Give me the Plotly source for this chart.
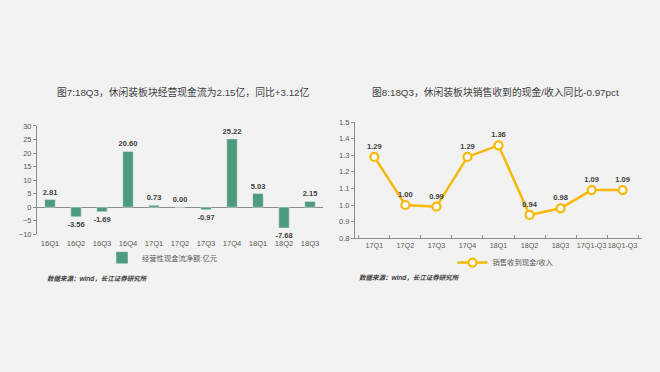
import plotly.graph_objects as go

# Left chart data
cats_left = ["16Q1", "16Q2", "16Q3", "16Q4", "17Q1", "17Q2", "17Q3", "17Q4", "18Q1", "18Q2", "18Q3"]
cash_flow = [2.81, -3.56, -1.69, 20.60, 0.73, 0.00, -0.97, 25.22, 5.03, -7.68, 2.15]

# Right chart data
cats_right = ["17Q1", "17Q2", "17Q3", "17Q4", "18Q1", "18Q2", "18Q3", "17Q1-Q3", "18Q1-Q3"]
cash_ratio = [1.29, 1.00, 0.99, 1.29, 1.36, 0.94, 0.98, 1.09, 1.09]

title_left = "图7:18Q3，休闲装板块经营现金流为2.15亿，同比+3.12亿"
title_right = "图8:18Q3，休闲装板块销售收到的现金/收入同比-0.97pct"
legend_left = "经营性现金流净额:亿元"
legend_right = "销售收到现金/收入"
source = "数据来源：wind，长江证券研究所"

W, H = 660, 372
FONT = "Liberation Sans, Noto Sans CJK SC, sans-serif"
BG = "#f2f2f2"
TXT = "#595959"
LBL = "#404040"
BAR = "#4e9a7c"
LINE = "#f5b90a"
AX = "#8c8c8c"

def px_x(v):
    return v / W

def px_y(v):
    return 1 - v / H

fig = go.Figure()

fig.add_trace(go.Bar(
    x=cats_left, y=cash_flow, marker_color=BAR, width=0.4,
    text=[f"{v:.2f}" for v in cash_flow], textposition="outside", constraintext="none",
    textfont=dict(size=7.5, color=LBL, family=FONT, weight="bold"),
    cliponaxis=False, name=legend_left, xaxis="x", yaxis="y", legend="legend",
))

fig.add_trace(go.Scatter(
    x=cats_right, y=cash_ratio, mode="lines+markers+text",
    line=dict(color=LINE, width=2.5),
    marker=dict(symbol="circle", size=8, color="white", line=dict(color=LINE, width=2.2)),
    text=[f"{v:.2f}" for v in cash_ratio], textposition="top center",
    textfont=dict(size=7.5, color=LBL, family=FONT, weight="bold"),
    cliponaxis=False, name=legend_right, xaxis="x2", yaxis="y2", legend="legend2",
))

fig.update_layout(
    width=W, height=H, margin=dict(l=0, r=0, t=0, b=0),
    paper_bgcolor=BG, plot_bgcolor=BG,
    font=dict(family=FONT, size=7.5, color=TXT),
    bargap=0.6,
    xaxis=dict(domain=[px_x(37), px_x(323)], anchor="y", showline=False, ticks="",
               showgrid=False, zeroline=False, tickfont=dict(size=7.6, color=TXT),
               tickangle=0, ticklabelstandoff=3),
    yaxis=dict(domain=[px_y(236), px_y(125)], anchor="x", range=[-10, 30], dtick=5,
               showline=True, linecolor=AX, linewidth=1, ticks="outside",
               ticklen=3, tickcolor=AX, showgrid=False,
               zeroline=True, zerolinecolor=AX, zerolinewidth=1,
               tickfont=dict(size=7.5, color=TXT)),
    xaxis2=dict(domain=[px_x(355), px_x(642)], anchor="y2", showline=True,
                linecolor=AX, linewidth=1, ticks="inside", ticklen=3,
                tickcolor=AX, tickson="boundaries", showgrid=False,
                zeroline=False, tickfont=dict(size=7.2, color=TXT), tickangle=0),
    yaxis2=dict(domain=[px_y(240), px_y(121)], anchor="x2", range=[0.8, 1.5], dtick=0.1,
                tickformat=".1f", showline=True, linecolor=AX, linewidth=1,
                ticks="outside", ticklen=3, tickcolor=AX, showgrid=False,
                zeroline=False, tickfont=dict(size=7.5, color=TXT)),
    legend=dict(orientation="h", x=px_x(162), y=px_y(260), xanchor="center", yanchor="middle",
                bgcolor="rgba(0,0,0,0)", font=dict(size=7.3, color=TXT), itemwidth=30),
    legend2=dict(orientation="h", x=px_x(506), y=px_y(265), xanchor="center", yanchor="middle",
                 bgcolor="rgba(0,0,0,0)", font=dict(size=7.3, color=TXT), itemwidth=30),
    showlegend=True,
)

annotations = [
    dict(text=title_left, x=px_x(183), y=px_y(90), xref="paper", yref="paper",
         showarrow=False, font=dict(size=9.8, color="#404040", family=FONT),
         xanchor="center", yanchor="middle"),
    dict(text=title_right, x=px_x(495), y=px_y(90), xref="paper", yref="paper",
         showarrow=False, font=dict(size=9.8, color="#404040", family=FONT),
         xanchor="center", yanchor="middle"),
    dict(text=f"<i><b>{source}</b></i>", x=px_x(45), y=px_y(281), xref="paper", yref="paper",
         showarrow=False, font=dict(size=6.5, color="#404040", family=FONT),
         xanchor="left", yanchor="middle"),
    dict(text=f"<i><b>{source}</b></i>", x=px_x(357), y=px_y(280), xref="paper", yref="paper",
         showarrow=False, font=dict(size=6.5, color="#404040", family=FONT),
         xanchor="left", yanchor="middle"),
]
fig.update_layout(annotations=annotations)

fig.write_html("out.html", config={"displayModeBar": False},
               post_script="document.body.style.margin='0';")
